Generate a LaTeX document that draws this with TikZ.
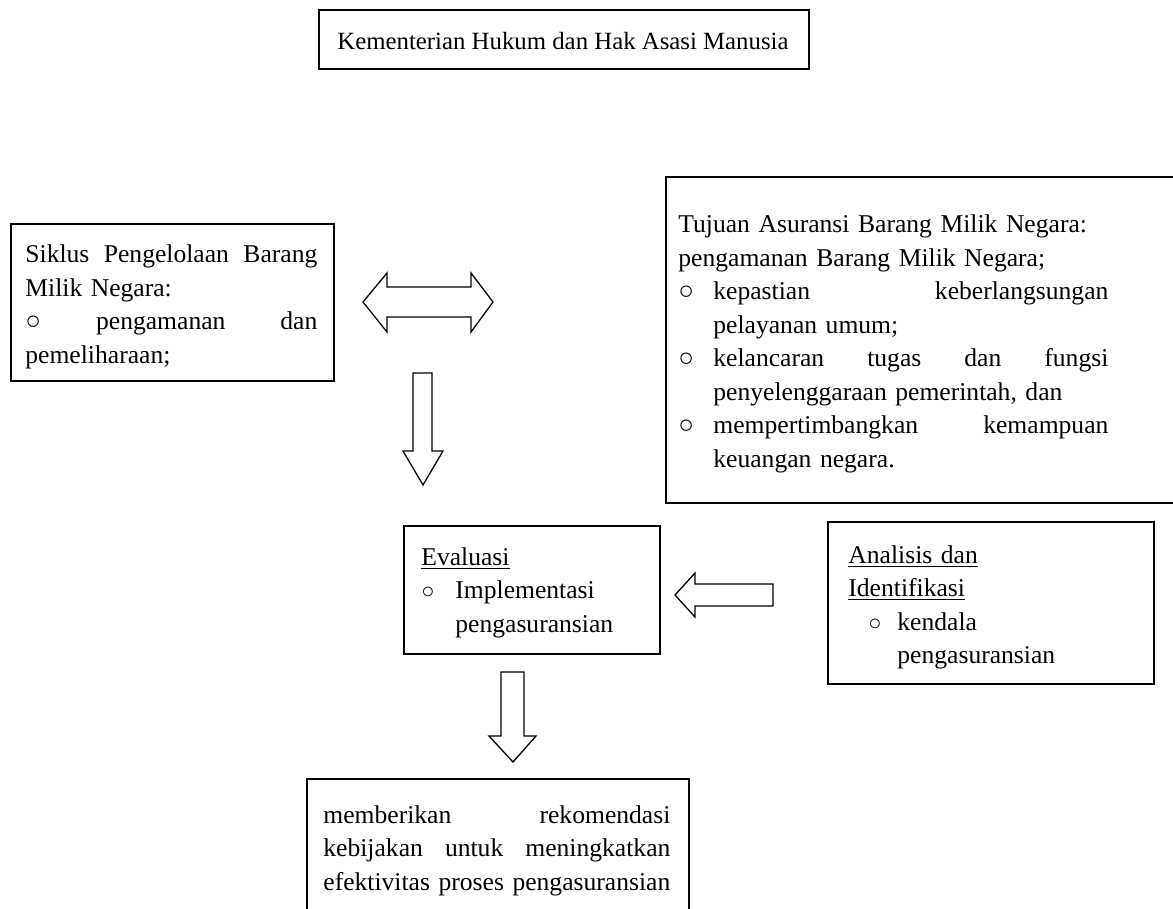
\documentclass[tikz,border=0pt]{standalone}
\usepackage{fontspec}
\setmainfont{Liberation Serif}
\newcommand{\myfs}{\fontsize{12.8pt}{16.75pt}\selectfont}
\newcommand{\jl}[2]{\makebox[#1][s]{\spaceskip=0pt\xspaceskip=0pt\relax #2}}
\newcommand{\wb}{{\fontsize{13pt}{13pt}\selectfont ○}}
\newcommand{\cb}{{\fontsize{11pt}{11pt}\selectfont ○}}
\begin{document}
\begin{tikzpicture}[x=0.5pt,y=-0.5pt,
  box/.style={draw, line width=1pt, inner sep=0pt, anchor=north west},
  txt/.style={inner sep=0pt, anchor=base west, align=left, font=\myfs},
  blk/.style={draw, line width=0.65pt, line join=miter, fill=white}]
\useasboundingbox (0,0) rectangle (1173,909);
\clip (0,0) rectangle (1173,909);
\fill[white] (0,0) rectangle (1173,909);
% boxes
\node[box, minimum width=245pt, minimum height=29.5pt] (kem) at (318,9) {};
\node[box, minimum width=161.5pt, minimum height=78.5pt] (sik) at (10,223) {};
\node[box, minimum width=262.5pt, minimum height=163pt] (tuj) at (665,176) {};
\node[box, minimum width=128pt, minimum height=64pt] (eva) at (403,525) {};
\node[box, minimum width=163pt, minimum height=81pt] (ana) at (827,521) {};
\node[box, minimum width=191pt, minimum height=81pt] (rek) at (306,778) {};
% texts
\node[txt, anchor=base, font=\fontsize{12.4pt}{15pt}\selectfont] (kemt) at (563,50) {Kementerian Hukum dan Hak Asasi Manusia};
\node[txt, text width=146pt] (sikt) at (25,263) {%
\jl{146pt}{Siklus Pengelolaan Barang}\\
Milik Negara:\\
\jl{146pt}{\wb{} pengamanan dan}\\
pemeliharaan;};
\node[txt, text width=215pt] (tujt) at (678,233) {%
Tujuan Asuransi Barang Milik Negara:\\
pengamanan Barang Milik Negara;\\
\makebox[17.5pt][l]{\wb}\jl{197.5pt}{kepastian keberlangsungan}\\
\hspace*{17.5pt}pelayanan umum;\\
\makebox[17.5pt][l]{\wb}\jl{197.5pt}{kelancaran tugas dan fungsi}\\
\hspace*{17.5pt}penyelenggaraan pemerintah, dan\\
\makebox[17.5pt][l]{\wb}\jl{197.5pt}{mempertimbangkan kemampuan}\\
\hspace*{17.5pt}keuangan negara.};
\node[txt, text width=115pt] (evat) at (421,565) {%
\underline{Evaluasi}\\
\makebox[17pt][l]{\cb}Implementasi\\
\hspace*{17pt}pengasuransian};
\node[txt, text width=150pt] (anat) at (848,563) {%
\underline{Analisis dan}\\
\underline{Identifikasi}\\
\hspace*{10pt}\makebox[14.5pt][l]{\cb}kendala\\
\hspace*{24.5pt}pengasuransian};
\node[txt, text width=173.5pt] (rekt) at (323,823) {%
\jl{173.5pt}{memberikan rekomendasi}\\
\jl{173.5pt}{kebijakan untuk meningkatkan}\\
efektivitas proses pengasuransian};
% block arrows
\draw[blk] (363,302) -- (387,273) -- (387,287) -- (471,287) -- (471,273) -- (493,302)
  -- (471,332) -- (471,317) -- (387,317) -- (387,332) -- cycle;
\draw[blk] (413,373) -- (432,373) -- (432,451) -- (443,451) -- (423,485) -- (403,451)
  -- (413,451) -- cycle;
\draw[blk] (675,595) -- (695,573) -- (695,584) -- (773,584) -- (773,606) -- (695,606)
  -- (695,617) -- cycle;
\draw[blk] (501,672) -- (524,672) -- (524,736) -- (536,736) -- (513,762) -- (489,736)
  -- (501,736) -- cycle;
\end{tikzpicture}
\end{document}
